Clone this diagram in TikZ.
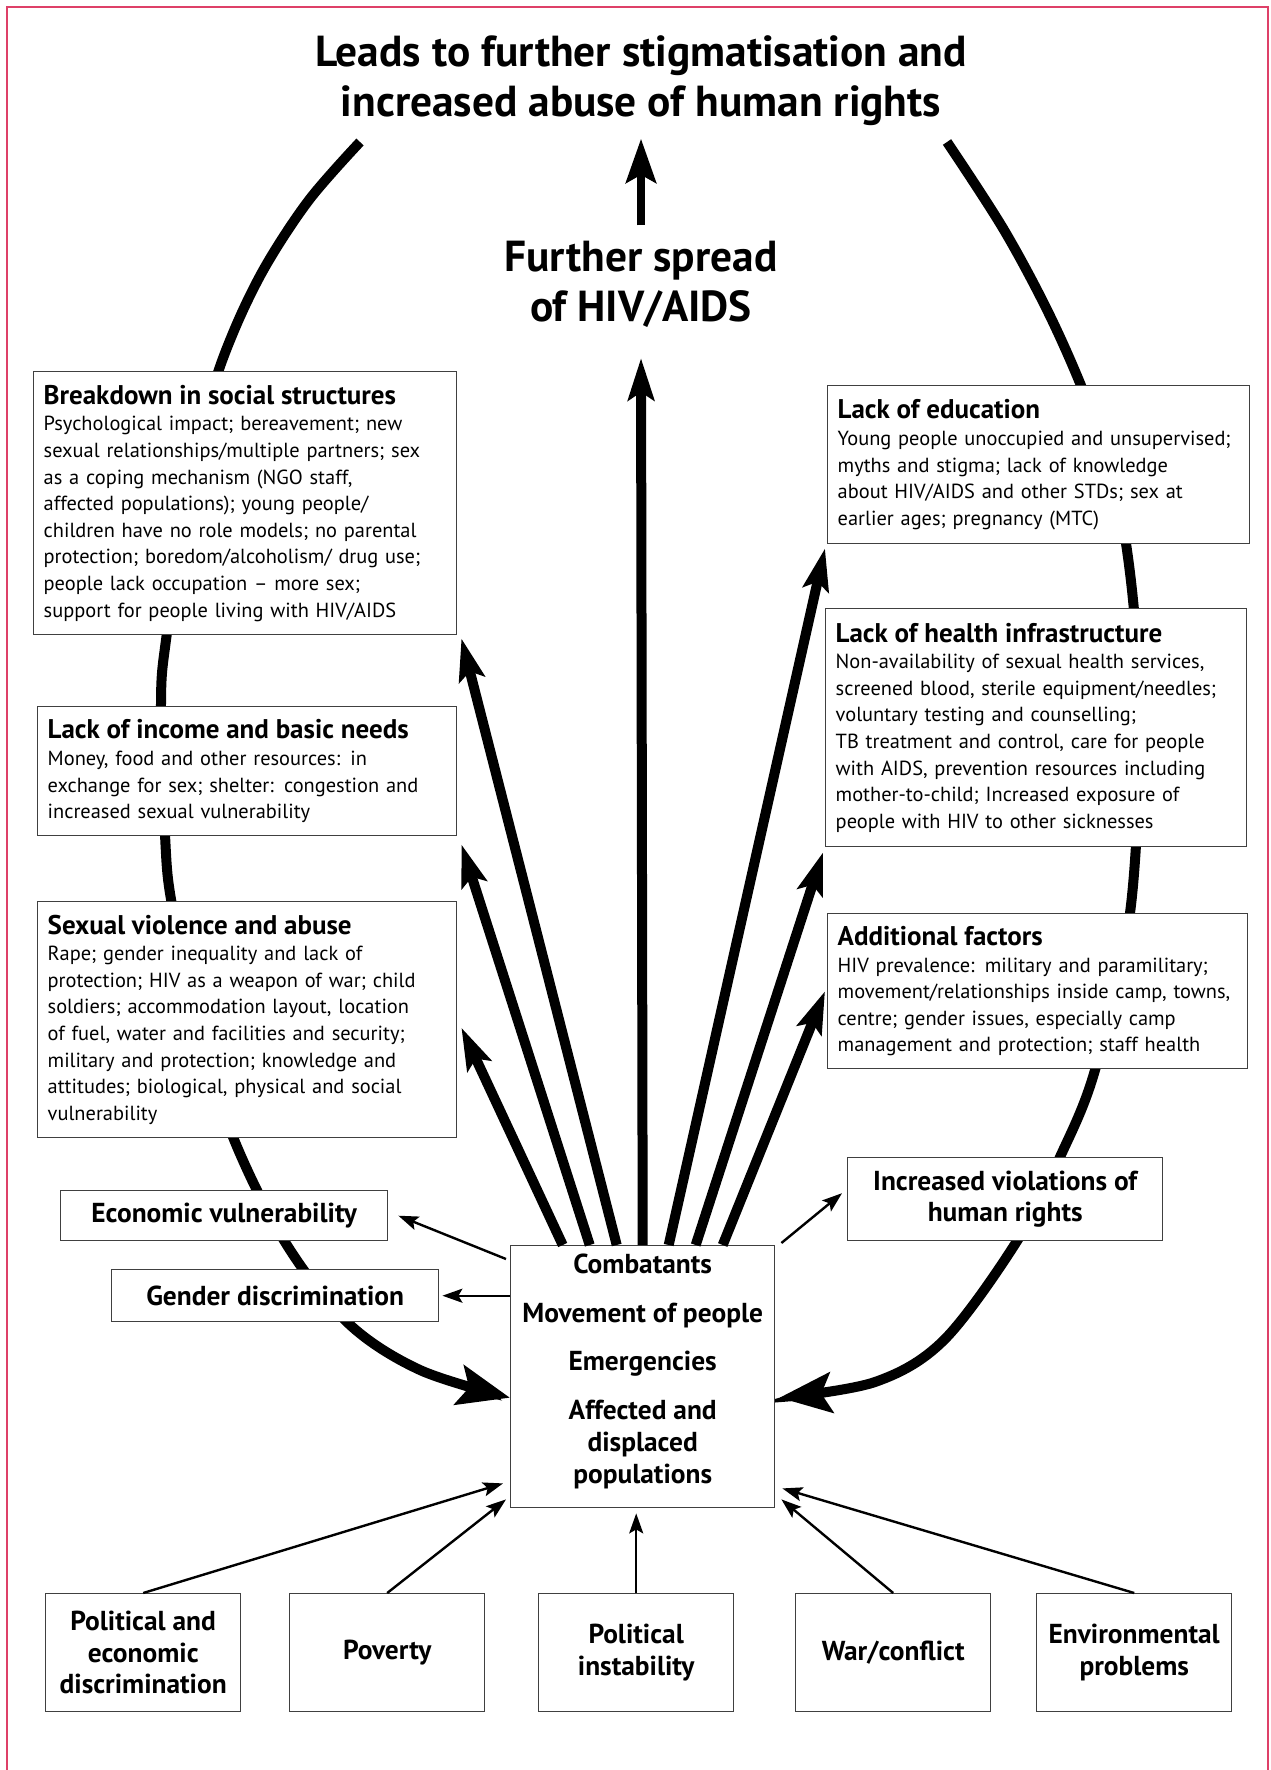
\documentclass[tikz,border=0pt]{standalone}
\usepackage{fontspec}
\setmainfont{PT Sans}
\usetikzlibrary{arrows.meta,calc,positioning,backgrounds}
\definecolor{framepink}{RGB}{222,64,104}
\newcommand{\boxhead}[1]{{\fontsize{13.5pt}{14pt}\selectfont\bfseries #1}}

\begin{document}
\begin{tikzpicture}[x=0.5pt,y=-0.5pt,
  infobox/.style={draw=black!75, line width=0.7pt, fill=white, anchor=north west,
    inner xsep=5pt, inner ysep=0pt, align=left,
    font=\fontsize{10.2pt}{13.3pt}\selectfont},
  labelbox/.style={draw=black!75, line width=0.7pt, fill=white, anchor=north west,
    inner sep=0pt, align=center, font=\fontsize{13.7pt}{15.5pt}\selectfont\bfseries},
  bigtext/.style={inner sep=0pt, align=center, font=\fontsize{21.7pt}{25pt}\selectfont\bfseries},
  fanarrow/.style={line width=5pt, -{Stealth[length=21pt,width=13pt,inset=4pt]}},
  toparrow/.style={line width=4pt, -{Stealth[length=22pt,width=15pt,inset=4pt]}},
  thinarrow/.style={line width=1.2pt, -{Stealth[length=10pt,width=7pt,inset=2pt]}},
  looparc/.style={line width=5pt, -{Stealth[length=26pt,width=20pt,inset=5pt]}},
]
  \useasboundingbox (0,0) rectangle (1270,1770);

  % Headings
  \node[bigtext] (title) at (641,80.5) {Leads to further stigmatisation and\\increased abuse of human rights};
  \node[bigtext] (spread) at (641,284.5) {Further spread\\of HIV/AIDS};

  % Left factor boxes
  \node[infobox, text width=201.5pt, minimum height=131.5pt] (breakdown) at (33,371)
    {\boxhead{Breakdown in social structures}\\
     Psychological impact; bereavement; new\\
     sexual relationships/multiple partners; sex\\
     as a coping mechanism (NGO staff,\\
     affected populations); young people/\\
     children have no role models; no parental\\
     protection; boredom/alcoholism/ drug use;\\
     people lack occupation -- more sex;\\
     support for people living with HIV/AIDS};
  \node[infobox, text width=199.5pt, minimum height=64.5pt] (income) at (37,706)
    {\boxhead{Lack of income and basic needs}\\
     Money, food and other resources: in\\
     exchange for sex; shelter: congestion and\\
     increased sexual vulnerability};
  \node[infobox, text width=199.5pt, minimum height=118pt] (sexual) at (37,901)
    {\boxhead{Sexual violence and abuse}\\
     Rape; gender inequality and lack of\\
     protection; HIV as a weapon of war; child\\
     soldiers; accommodation layout, location\\
     of fuel, water and facilities and security;\\
     military and protection; knowledge and\\
     attitudes; biological, physical and social\\
     vulnerability};

  % Right factor boxes
  \node[infobox, text width=201pt, minimum height=79pt] (education) at (827,385)
    {\boxhead{Lack of education}\\
     Young people unoccupied and unsupervised;\\
     myths and stigma; lack of knowledge\\
     about HIV/AIDS and other STDs; sex at\\
     earlier ages; pregnancy (MTC)};
  \node[infobox, text width=200.5pt, minimum height=119pt] (health) at (825,608)
    {\boxhead{Lack of health infrastructure}\\
     Non-availability of sexual health services,\\
     screened blood, sterile equipment/needles;\\
     voluntary testing and counselling;\\
     TB treatment and control, care for people\\
     with AIDS, prevention resources including\\
     mother-to-child; Increased exposure of\\
     people with HIV to other sicknesses};
  \node[infobox, text width=200pt, minimum height=77.5pt] (additional) at (827,913)
    {\boxhead{Additional factors}\\
     HIV prevalence: military and paramilitary;\\
     movement/relationships inside camp, towns,\\
     centre; gender issues, especially camp\\
     management and protection; staff health};

  % Small labels round the hub
  \node[labelbox, minimum width=163.5pt, minimum height=25pt] (econ) at (60,1190) {Economic vulnerability};
  \node[labelbox, minimum width=163.5pt, minimum height=26pt] (gender) at (111,1269) {Gender discrimination};
  \node[labelbox, minimum width=157.5pt, minimum height=41.5pt] (viol) at (847,1157) {Increased violations of\\human rights};
  \node[labelbox, minimum width=132pt, minimum height=131pt, text depth=7.9pt,
      font=\fontsize{13.7pt}{16pt}\selectfont\bfseries] (hub) at (510,1245)
    {Combatants\\[8.2pt]Movement of people\\[8.2pt]Emergencies\\[8.2pt]Affected and\\displaced\\populations};

  % Root causes
  \foreach \bx/\bname/\btext in {45/polit/{Political and\\economic\\discrimination}, 289/poverty/{Poverty},
      538/instab/{Political\\instability}, 795/war/{War/conflict}, 1036/env/{Environmental\\problems}} {
    \node[labelbox, minimum width=97.5pt, minimum height=59pt, font=\fontsize{13.7pt}{15.8pt}\selectfont\bfseries] (\bname) at (\bx,1593) {\btext};
  }

  % Loop back to the hub, behind the boxes
  \begin{scope}[on background layer]
    \draw[framepink, line width=1.2pt] (7,1770) -- (7,7) -- (1268,7) -- (1268,1770);
    \coordinate (ltop) at (360,142);
    \coordinate (rtop) at (947,142);
    \draw[looparc] plot[smooth, tension=0.55] coordinates {(ltop) (309,200) (265,267) (233,333) (210,400)
      (185,520) (166,640) (161,703) (165,835) (172,905) (200,1030) (233,1137) (285,1242) (348,1323) (420,1370)
      ([yshift=-10.5pt]hub.west)};
    \draw[looparc] plot[smooth, tension=0.55] coordinates {(rtop) (1004,230) (1051,318) (1089,406) (1117,494)
      (1133,600) (1140,727) (1130,913) (1095,1070) (1060,1157) (1017,1241) (944,1340) (875,1382)
      ([shift={(2pt,-10.5pt)}]hub.east)};
  \end{scope}

  % Fan of thick arrows out of the hub
  \draw[fanarrow] ([xshift=-40pt]hub.north) -- ([shift={(2pt,-4pt)}]sexual.east);
  \draw[fanarrow] ([xshift=-26.5pt]hub.north) -- ([shift={(2pt,-4pt)}]income.south east);
  \draw[fanarrow] ([xshift=-13pt]hub.north) -- ([shift={(2pt,-1.5pt)}]breakdown.south east);
  \draw[fanarrow] (hub.north) -- ([yshift=-15pt]spread.south);
  \draw[fanarrow] ([xshift=13pt]hub.north) -- ([shift={(-1pt,-2pt)}]education.south west);
  \draw[fanarrow] ([xshift=26.5pt]hub.north) -- ([shift={(-1pt,-2.5pt)}]health.south west);
  \draw[fanarrow] ([xshift=40pt]hub.north) -- ([xshift=-1pt]additional.west);
  \draw[toparrow] ([yshift=7.75pt]spread.north) -- ([yshift=-6.4pt]title.south);

  % Thin arrows
  \draw[thinarrow] ([shift={(-2pt,-7pt)}]hub.north west) -- ([xshift=5pt]econ.east);
  \draw[thinarrow] (hub.west |- gender.east) -- ([xshift=1.5pt]gender.east);
  \draw[thinarrow] ([shift={(3pt,1pt)}]hub.north east) -- ([shift={(-2.5pt,3pt)}]viol.west);
  \draw[thinarrow] (polit.north) -- ([shift={(-3.5pt,12.5pt)}]hub.south west);
  \draw[thinarrow] (poverty.north) -- ([shift={(-2pt,4.5pt)}]hub.south west);
  \draw[thinarrow, shorten >=2.5pt] (instab.north) -- (instab.north |- hub.south);
  \draw[thinarrow] (war.north) -- ([shift={(3pt,4.5pt)}]hub.south east);
  \draw[thinarrow] (env.north) -- ([shift={(3.5pt,10pt)}]hub.south east);
\end{tikzpicture}
\end{document}
